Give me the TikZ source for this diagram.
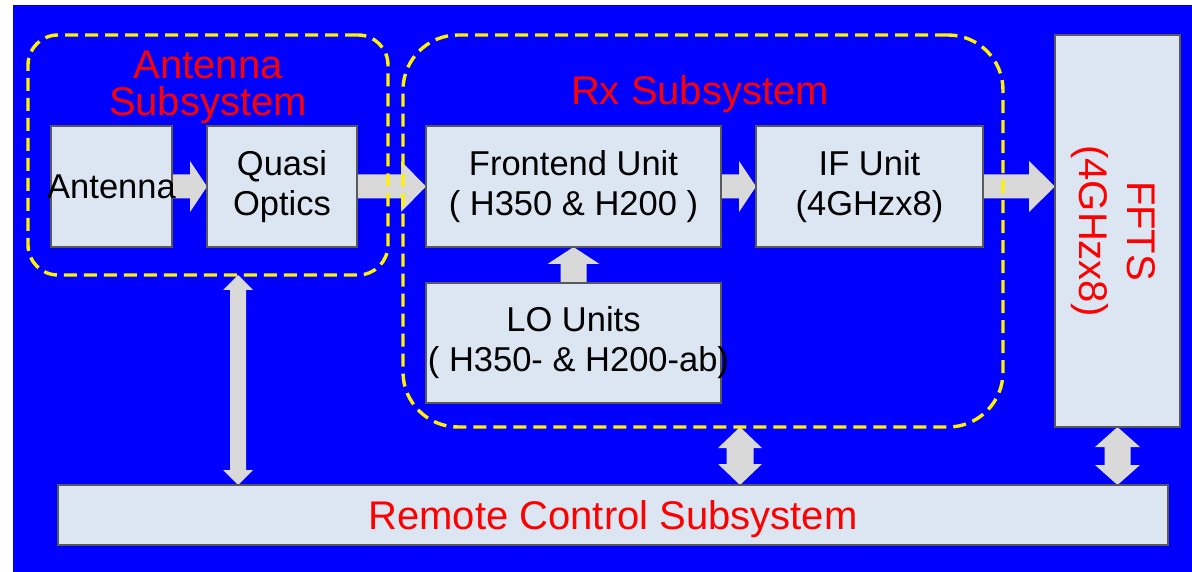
\documentclass[tikz,border=0pt]{standalone}
\usepackage{fontspec}
\setmainfont{Liberation Sans}
\usetikzlibrary{calc}
\definecolor{bgblue}{HTML}{0000FF}
\definecolor{boxfill}{HTML}{DCE6F2}
\definecolor{boxedge}{HTML}{595959}
\definecolor{arrgray}{HTML}{D9D9D9}
\pgfdeclarelayer{bg}
\pgfdeclarelayer{arrows}
\pgfsetlayers{bg,arrows,main}
% block arrow pointing right: from #1 to #2, head length #3
\newcommand\rArrow[3]{%
  \fill[arr] ($(#1)+(0,-12)$) -- ($(#2)+(-#3,-12)$) -- ($(#2)+(-#3,-25.5)$) -- (#2)
    -- ($(#2)+(-#3,25.5)$) -- ($(#2)+(-#3,12)$) -- ($(#1)+(0,12)$) -- cycle;}
% block arrow pointing up: from #1 (below) to #2 (above), shaft half #3, head half #4, head length #5
\newcommand\uArrow[5]{%
  \fill[arr] ($(#1)+(-#3,0)$) -- ($(#2)+(-#3,#5)$) -- ($(#2)+(-#4,#5)$) -- (#2)
    -- ($(#2)+(#4,#5)$) -- ($(#2)+(#3,#5)$) -- ($(#1)+(#3,0)$) -- cycle;}
% vertical double block arrow: top #1, bottom #2, shaft half #3, head half #4, head length #5
\newcommand\dArrow[5]{%
  \fill[arr] (#1) -- ($(#1)+(#4,#5)$) -- ($(#1)+(#3,#5)$) -- ($(#2)+(#3,-#5)$)
    -- ($(#2)+(#4,-#5)$) -- (#2) -- ($(#2)+(-#4,-#5)$) -- ($(#2)+(-#3,-#5)$)
    -- ($(#1)+(-#3,#5)$) -- ($(#1)+(-#4,#5)$) -- cycle;}
\begin{document}
\begin{tikzpicture}[x=1pt,y=-1pt,
  box/.style={draw=boxedge, line width=2pt, fill=boxfill, inner sep=0pt, outer sep=0pt,
    font=\fontsize{34.5}{40}\selectfont, align=center},
  group/.style={draw=yellow, line width=3.4pt, dash pattern=on 13pt off 7pt, inner sep=0pt, outer sep=0pt},
  redlabel/.style={text=red, font=\fontsize{40}{37}\selectfont, align=center, inner sep=0pt},
  arr/.style={fill=arrgray}]
\useasboundingbox (0,0) rectangle (1192,572);
\begin{pgfonlayer}{bg}
  \fill[bgblue] (13,5) rectangle (1192,572);
\end{pgfonlayer}

% units
\node[box, minimum width=121pt, minimum height=121pt] (ant) at (111.5,186.5) {\makebox[0pt]{Antenna}};
\node[box, minimum width=150pt, minimum height=121pt] (qo) at (282,186.5) {Quasi\\Optics};
\node[box, minimum width=295pt, minimum height=121pt] (fe) at (573.5,186.5) {Frontend Unit\\( H350 \& H200 )};
\node[box, minimum width=227pt, minimum height=121pt] (ife) at (869.5,186.5) {IF Unit\\(4GHzx8)};
\node[box, minimum width=295pt, minimum height=120pt] (lo) at (573.5,343) {LO Units\\\makebox[0pt]{\hspace{10pt}( H350- \& H200-ab)}};
% FFTS box is rotated: its south anchor is the left side, its east anchor the bottom side
\node[box, rotate=-90, minimum width=392pt, minimum height=125pt, text=red,
  font=\fontsize{40}{48}\selectfont, text depth=0pt] (ffts) at (1117.5,231) {FFTS\\(4GHzx8)};
\node[box, minimum width=1110pt, minimum height=60pt, text=red,
  font=\fontsize{40}{48}\selectfont, text depth=0pt] (rc) at (613,515) {Remote Control Subsystem};

% subsystem groups
\node[group, rounded corners=30pt, minimum width=360pt, minimum height=240pt] (asub) at (208,155) {};
\node[group, rounded corners=55pt, minimum width=600pt, minimum height=392pt] (rxsub) at (703,231) {};

% labels
\node[redlabel, text depth=0pt] (asublabel) at (208,83.2) {Antenna\\Subsystem};
\node[redlabel, anchor=base] (rxlabel) at (700,105) {Rx Subsystem};

% connectors
\begin{pgfonlayer}{arrows}
  \rArrow{ant.east}{qo.west}{17}
  \rArrow{qo.east}{fe.west}{25}
  \rArrow{fe.east}{ife.west}{17}
  \coordinate (fftsin) at (ffts.south |- ife.east);
  \rArrow{ife.east}{fftsin}{26}
  \uArrow{lo.north}{fe.south}{13}{26}{17}
  \coordinate (c1) at ($(asub.south)+(30,0)$);
  \coordinate (c1b) at (c1 |- rc.north);
  \dArrow{c1}{c1b}{8}{15}{15}
  \coordinate (c2) at ($(rxsub.south)+(37,0)$);
  \coordinate (c2b) at (c2 |- rc.north);
  \dArrow{c2}{c2b}{13.5}{22}{21}
  \coordinate (c3) at (ffts.east);
  \coordinate (c3b) at (c3 |- rc.north);
  \dArrow{c3}{c3b}{13}{22.5}{20}
\end{pgfonlayer}
\end{tikzpicture}
\end{document}
